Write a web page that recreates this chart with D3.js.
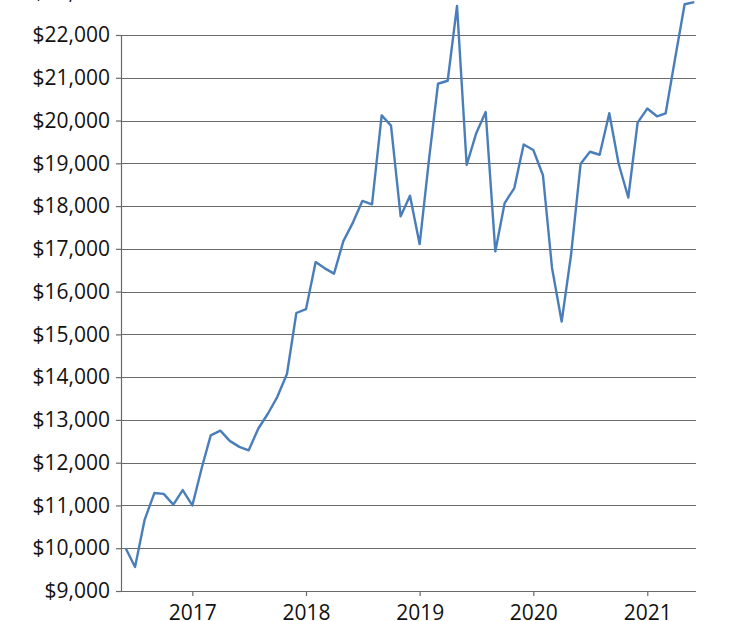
<!DOCTYPE html>
<html><head><meta charset="utf-8">
<script src="https://cdn.jsdelivr.net/npm/d3@7/dist/d3.min.js"></script>
<style>body{margin:0;background:#fff;} svg{display:block;}</style>
</head><body>
<svg id="chart" width="730" height="621"></svg>
<script>
const months = [
  "2016-06","2016-07","2016-08","2016-09","2016-10","2016-11","2016-12",
  "2017-01","2017-02","2017-03","2017-04","2017-05","2017-06","2017-07","2017-08","2017-09","2017-10","2017-11","2017-12",
  "2018-01","2018-02","2018-03","2018-04","2018-05","2018-06","2018-07","2018-08","2018-09","2018-10","2018-11","2018-12",
  "2019-01","2019-02","2019-03","2019-04","2019-05","2019-06","2019-07","2019-08","2019-09","2019-10","2019-11","2019-12",
  "2020-01","2020-02","2020-03","2020-04","2020-05","2020-06","2020-07","2020-08","2020-09","2020-10","2020-11","2020-12",
  "2021-01","2021-02","2021-03","2021-04","2021-05","2021-06"
];
const values = [
  10000, 9560, 10670, 11290, 11270, 11020, 11360,
  11000, 11900, 12640, 12750, 12510, 12370, 12290, 12800, 13150, 13540, 14080, 15500,
  15590, 16690, 16550, 16420, 17180, 17620, 18120, 18040, 20120, 19880, 17760, 18240,
  17110, 19150, 20860, 20930, 22680, 18960, 19690, 20200, 16940, 18070, 18420, 19440,
  19310, 18720, 16560, 15300, 16850, 18990, 19270, 19200, 20170, 18990, 18200, 19950,
  20280, 20100, 20170, 21480, 22720, 22770
];
const yTicks = [9000,10000,11000,12000,13000,14000,15000,16000,17000,18000,19000,20000,21000,22000,23000];
const xTickYears = ["2017","2018","2019","2020","2021"];

const parse = d3.timeParse("%Y-%m");
const data = months.map((m, i) => ({date: parse(m), value: values[i]}));

const svg = d3.select("#chart");
const plotLeft = 121, plotRight = 696, plotBottom = 591;

const x = d3.scaleTime()
  .domain(d3.extent(data, d => d.date))
  .range([125.7, 694.3]);
const y = d3.scaleLinear()
  .domain([9000, 22000])
  .range([591, 35]);

const gridColor = "#6a6a6a";
const textColor = "#111111";
const font = "'Open Sans', sans-serif";

// gridlines
svg.append("g").selectAll("line")
  .data(yTicks.filter(d => d > 9000))
  .join("line")
  .attr("x1", plotLeft).attr("x2", plotRight)
  .attr("y1", d => Math.round(y(d)) + 0.5).attr("y2", d => Math.round(y(d)) + 0.5)
  .attr("stroke", gridColor).attr("stroke-width", 1.2);

// y axis
const yAxis = svg.append("g")
  .attr("transform", `translate(${plotLeft},0)`)
  .call(d3.axisLeft(y).tickValues(yTicks).tickFormat(d => "$" + d3.format(",")(d)).tickSize(5).tickSizeOuter(0).tickPadding(6));
yAxis.select(".domain").attr("stroke", gridColor).attr("stroke-width", 1.2);
yAxis.selectAll(".tick line").attr("stroke", gridColor).attr("stroke-width", 1.2);
yAxis.selectAll("text").attr("fill", textColor).style("font-family", font).style("font-size", "21px");

// x axis
const xAxis = svg.append("g")
  .attr("transform", `translate(0,${plotBottom})`)
  .call(d3.axisBottom(x).tickValues(xTickYears.map(s => d3.timeParse("%Y")(s))).tickFormat(d3.timeFormat("%Y")).tickSize(5).tickSizeOuter(0).tickPadding(9));
xAxis.select(".domain").remove();
xAxis.append("line").attr("x1", plotLeft).attr("x2", plotRight).attr("y1", 0.5).attr("y2", 0.5)
  .attr("stroke", gridColor).attr("stroke-width", 1.2);
xAxis.selectAll(".tick line").attr("stroke", gridColor).attr("stroke-width", 1.2);
xAxis.selectAll("text").attr("fill", textColor).style("font-family", font).style("font-size", "21px");

// line
svg.append("path")
  .datum(data)
  .attr("fill", "none")
  .attr("stroke", "#4a7ebb")
  .attr("stroke-width", 2.4)
  .attr("stroke-linejoin", "round")
  .attr("d", d3.line().x(d => x(d.date)).y(d => y(d.value)));
</script>
</body></html>
